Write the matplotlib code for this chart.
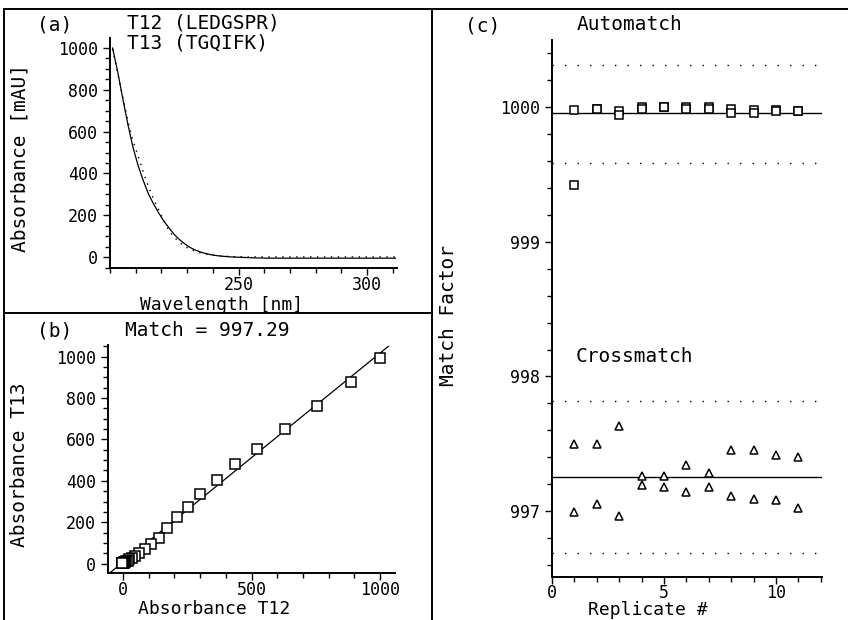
import numpy as np
import matplotlib
matplotlib.use("Agg")
import matplotlib.pyplot as plt
from matplotlib.lines import Line2D
from matplotlib.ticker import MultipleLocator

plt.rcParams['font.family'] = ['DejaVu Sans Mono', 'DejaVu Sans']
plt.rcParams['font.size'] = 14

# ---- data ----
# (a) spectra, 2 nm steps from 201 nm
wavelength = np.arange(201, 313, 2)
t12 = [1000, 886, 756, 632, 522, 435, 364, 301, 253, 210,
       171, 139, 108, 84, 64, 47, 35, 25, 18, 12,
       8, 5, 3, 1, 0, -1, -2, -3, -4, -4,
       -5, -5, -5, -5, -5, -5, -5, -5, -5, -5,
       -5, -5, -5, -5, -5, -5, -5, -5, -5, -5,
       -5, -5, -5, -5, -5, -5]
t13 = [995, 879, 762, 651, 553, 482, 405, 336, 276, 225,
       172, 124, 95, 71, 51, 39, 29, 21, 15, 11,
       8, 6, 4, 3, 2, 2, 1, 1, 1, 1,
       1, 1, 1, 1, 1, 1, 1, 1, 1, 1,
       1, 1, 1, 1, 1, 1, 1, 1, 1, 1,
       1, 1, 1, 1, 1, 1]

# (b) regression line
fit_slope = 1.01
fit_intercept = 7.0
fit_span = [-52, 1032]
match_value = 997.29

# (c) match factors per replicate
replicate = np.arange(1, 12)
auto_a = [999.98, 999.99, 999.97, 1000.00, 1000.00, 1000.00, 1000.00, 999.99, 999.98, 999.98, 999.97]
auto_b = [999.42, 999.99, 999.94, 999.99, 1000.00, 999.99, 999.99, 999.96, 999.96, 999.97, 999.97]
auto_mean, auto_lo, auto_hi = 999.955, 999.585, 1000.315
cross_a = [997.50, 997.50, 997.63, 997.26, 997.26, 997.34, 997.28, 997.45, 997.45, 997.42, 997.40]
cross_b = [996.99, 997.05, 996.96, 997.19, 997.18, 997.14, 997.18, 997.11, 997.09, 997.08, 997.02]
cross_mean, cross_lo, cross_hi = 997.256, 996.69, 997.815
c_ticks = [997, 998, 999, 1000]

W, H = 848, 620


def fx(px):
    return px / W


def fy(py):
    return 1 - py / H


def ax_box(left, top, right, bottom):
    return [fx(left), fy(bottom), (right - left) / W, (bottom - top) / H]


def style(ax):
    for s in ['top', 'right']:
        ax.spines[s].set_visible(False)
    for s in ['left', 'bottom']:
        ax.spines[s].set_linewidth(1.4)
    ax.tick_params(which='major', direction='out', length=5, width=1, labelsize=12)
    ax.tick_params(which='minor', direction='out', length=3.5, width=1)


fig = plt.figure(figsize=(8.48, 6.2), dpi=100)

# panel (a)
ax1 = fig.add_axes(ax_box(110, 38, 397, 268))
ax1.plot(wavelength, t12, color='black', lw=0.9)
ax1.plot(wavelength, t13, color='black', lw=1.0, linestyle=(0, (1, 4)))
ax1.set_xlim(200, 311.6)
ax1.set_ylim(-52, 1048)
ax1.set_xticks([250, 300])
ax1.xaxis.set_minor_locator(MultipleLocator(10))
ax1.set_yticks([0, 200, 400, 600, 800, 1000])
ax1.yaxis.set_minor_locator(MultipleLocator(50))
style(ax1)
ax1.tick_params(axis='x', which='major', pad=1)

# panel (b)
ax2 = fig.add_axes(ax_box(108, 345, 395, 573))
fx_line = np.array(fit_span)
ax2.plot(fx_line, fit_slope * fx_line + fit_intercept, color='black', lw=0.9)
ax2.plot(t12, t13, linestyle='none', marker='s', ms=6.5, mfc='white',
         mec='black', mew=1.1)
ax2.set_xlim(-58, 1058)
ax2.set_ylim(-45, 1056)
ax2.set_xticks([0, 500, 1000])
ax2.xaxis.set_minor_locator(MultipleLocator(100))
ax2.set_yticks([0, 200, 400, 600, 800, 1000])
ax2.yaxis.set_minor_locator(MultipleLocator(50))
style(ax2)
ax2.tick_params(axis='x', which='major', pad=1)

# panel (c)
ax3 = fig.add_axes(ax_box(552, 40, 822, 577))
dots = (0, (1, 8))
for yv in [auto_hi, auto_lo, cross_hi, cross_lo]:
    ax3.axhline(yv, color='black', lw=1.0, linestyle=dots)
ax3.axhline(auto_mean, color='black', lw=1.0)
ax3.axhline(cross_mean, color='black', lw=1.0)
for ys in [auto_a, auto_b]:
    ax3.plot(replicate, ys, linestyle='none', marker='s', ms=5.5, mfc='white',
             mec='black', mew=1.1)
for ys in [cross_a, cross_b]:
    ax3.plot(replicate, ys, linestyle='none', marker='^', ms=6, mfc='white',
             mec='black', mew=1.1)
ax3.set_xlim(0, 12.05)
ax3.set_ylim(996.51, 1000.5)
ax3.set_xticks([0, 5, 10])
ax3.xaxis.set_minor_locator(MultipleLocator(1))
ax3.set_yticks(c_ticks)
ax3.set_yticklabels([str(t) for t in c_ticks])
ax3.yaxis.set_minor_locator(MultipleLocator(0.2))
style(ax3)
ax3.tick_params(axis='x', which='major', pad=0)

# texts
fig.text(fx(55), fy(25), '(a)', ha='center', va='center')
fig.text(fx(127), fy(23), 'T12 (LEDGSPR)', ha='left', va='center')
fig.text(fx(127), fy(43), 'T13 (TGQIFK)', ha='left', va='center')
fig.text(fx(20), fy(158), 'Absorbance [mAU]', ha='center', va='center', rotation=90)
fig.text(fx(222), fy(305), 'Wavelength [nm]', ha='center', va='center', fontsize=13)

fig.text(fx(55), fy(331), '(b)', ha='center', va='center')
fig.text(fx(125), fy(331), 'Match = %.2f' % match_value, ha='left', va='center')
fig.text(fx(20), fy(465), 'Absorbance T13', ha='center', va='center', rotation=90)
fig.text(fx(214), fy(609), 'Absorbance T12', ha='center', va='center', fontsize=13)

fig.text(fx(483), fy(26), '(c)', ha='center', va='center')
fig.text(fx(630), fy(25), 'Automatch', ha='center', va='center')
fig.text(fx(634), fy(356), 'Crossmatch', ha='center', va='center')
fig.text(fx(448), fy(315), 'Match Factor', ha='center', va='center', rotation=90)
fig.text(fx(648), fy(610), 'Replicate #', ha='center', va='center', fontsize=13)

# panel frame lines
frame = [([4, 848], [9, 9]), ([4, 4], [9, 620]), ([4, 432], [313, 313]), ([432, 432], [9, 620])]
for xs, ys in frame:
    fig.add_artist(Line2D([fx(v) for v in xs], [fy(v) for v in ys],
                          transform=fig.transFigure, color='black', lw=1.4))

fig.savefig('out.png', dpi=100)
plt.close(fig)
